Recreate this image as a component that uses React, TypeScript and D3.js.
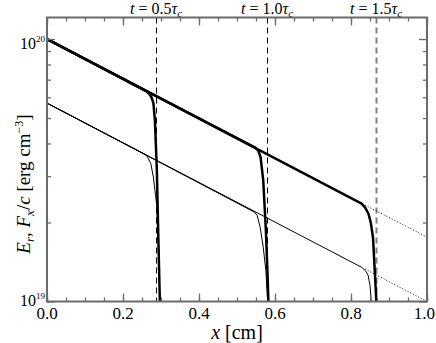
import React, { useEffect, useRef } from 'react';
import * as d3 from 'd3';

// values in units of 1e19 erg cm^-3, x in cm
const erT05: [number, number][] = [[0, 10.0], [0.262, 6.32], [0.268, 6.2], [0.275, 6.0], [0.280, 5.7], [0.284, 4.9], [0.289, 3.2], [0.293, 1.75], [0.297, 1.0], [0.299, 0.8]];
const fxT05: [number, number][] = [[0, 5.70], [0.259, 3.63], [0.264, 3.56], [0.273, 3.36], [0.280, 2.98], [0.284, 2.65], [0.289, 2.32], [0.293, 1.75], [0.297, 1.0], [0.299, 0.8]];
const erT10: [number, number][] = [[0, 10.0], [0.548, 3.86], [0.556, 3.76], [0.562, 3.55], [0.569, 2.9], [0.576, 1.87], [0.581, 1.2], [0.584, 0.85]];
const fxT10: [number, number][] = [[0, 5.70], [0.546, 2.19], [0.553, 2.13], [0.561, 1.92], [0.569, 1.61], [0.576, 1.31], [0.581, 0.98], [0.584, 0.8]];
const erT15: [number, number][] = [[0, 10.0], [0.828, 2.36], [0.838, 2.27], [0.846, 2.16], [0.852, 2.0], [0.858, 1.75], [0.862, 1.35], [0.866, 1.05], [0.869, 0.8]];
const fxT15: [number, number][] = [[0, 5.70], [0.828, 1.35], [0.838, 1.31], [0.845, 1.26], [0.850, 1.15], [0.853, 1.02], [0.856, 0.8]];
// analytic continuation (dotted)
const erDotted: [number, number][] = [[0.837, 2.33], [1.0, 1.76]];
const fxDotted: [number, number][] = [[0.837, 1.33], [1.0, 1.0]];

const frontX = [0.287, 0.579, 0.866];
const frontLabels = ['0.5', '1.0', '1.5'];
const xMajor = [0, 0.2, 0.4, 0.6, 0.8, 1.0];
const xMinor = d3.range(0, 1.0001, 0.05);
const yMajor = [1, 10];
const yMinor = [2, 3, 4, 5, 6, 7, 8, 9];
const yMajorLabels = ['19', '20'];

const W = 436, H = 343;
const M = { left: 47, right: 9, top: 17.5, bottom: 41.5 };
const FONT = 'Liberation Serif';

export default function App() {
    const ref = useRef<SVGSVGElement>(null);

    useEffect(() => {
        const svg = d3.select(ref.current);
        svg.selectAll('*').remove();
        const iw = W - M.left - M.right;
        const ih = H - M.top - M.bottom;

        const x = d3.scaleLinear().domain([0, 1]).range([0, iw]);
        const y = d3.scaleLog().domain([1, 12.08]).range([ih, 0]);

        const g = svg.append('g').attr('transform', `translate(${M.left},${M.top})`);

        g.append('defs').append('clipPath').attr('id', 'clip')
            .append('rect').attr('width', iw).attr('height', ih);

        const plot = g.append('g').attr('clip-path', 'url(#clip)');

        // dashed front markers
        plot.selectAll('.front').data(frontX).enter().append('line')
            .attr('x1', d => Math.round(x(d)) + 0.5).attr('x2', d => Math.round(x(d)) + 0.5)
            .attr('y1', 0).attr('y2', ih)
            .attr('stroke', (d, i) => i === 2 ? '#808080' : '#000')
            .attr('stroke-width', (d, i) => i === 2 ? 2 : 1)
            .attr('stroke-dasharray', '6,4');

        const line = d3.line<[number, number]>()
            .x(d => x(d[0])).y(d => y(d[1]));

        [fxT05, fxT10, fxT15].forEach(s => {
            plot.append('path').attr('d', line(s)).attr('fill', 'none')
                .attr('stroke', '#000').attr('stroke-width', 1)
                .attr('stroke-linejoin', 'round');
        });
        [erT05, erT10, erT15].forEach(s => {
            plot.append('path').attr('d', line(s)).attr('fill', 'none')
                .attr('stroke', '#000').attr('stroke-width', 2.5)
                .attr('stroke-linejoin', 'round');
        });
        [erDotted, fxDotted].forEach(s => {
            plot.append('path').attr('d', line(s)).attr('fill', 'none')
                .attr('stroke', '#000').attr('stroke-width', 1)
                .attr('stroke-dasharray', '1,2');
        });

        // axes (ticks inside, no labels)
        const axisColor = '#6a6a6a';
        const addAxis = (axis: any, tx: number, ty: number) => {
            const a = g.append('g').attr('transform', `translate(${tx},${ty})`).call(axis);
            a.select('.domain').remove();
            a.selectAll('text').remove();
            a.selectAll('line').attr('stroke', axisColor).attr('stroke-width', 1.3);
        };
        addAxis(d3.axisBottom(x).tickValues(xMinor).tickSize(-4), 0, ih);
        addAxis(d3.axisBottom(x).tickValues(xMajor).tickSize(-8), 0, ih);
        addAxis(d3.axisTop(x).tickValues(xMinor).tickSize(-4), 0, 0);
        addAxis(d3.axisTop(x).tickValues(xMajor).tickSize(-8), 0, 0);
        addAxis(d3.axisLeft(y).tickValues(yMinor).tickSize(-4), 0, 0);
        addAxis(d3.axisLeft(y).tickValues(yMajor).tickSize(-8), 0, 0);
        addAxis(d3.axisRight(y).tickValues(yMinor).tickSize(-4), iw, 0);
        addAxis(d3.axisRight(y).tickValues(yMajor).tickSize(-8), iw, 0);

        g.append('rect').attr('width', iw).attr('height', ih)
            .attr('fill', 'none').attr('stroke', axisColor).attr('stroke-width', 2);

        // x tick labels
        g.selectAll('.xl').data(xMajor).enter().append('text')
            .attr('x', d => d === 1 ? W - M.left - 1 : x(d)).attr('y', ih + 17)
            .attr('text-anchor', d => d === 1 ? 'end' : 'middle')
            .attr('font-family', FONT).attr('font-size', 17)
            .text(d => d.toFixed(1));

        // y tick labels
        yMajor.forEach((v, i) => {
            const t = g.append('text')
                .attr('x', -2).attr('y', y(v) + (i === 0 ? 4 : 10))
                .attr('text-anchor', 'end')
                .attr('font-family', FONT).attr('font-size', 16);
            t.append('tspan').text('10');
            t.append('tspan').attr('font-size', 9).attr('dy', -7).text(yMajorLabels[i]);
        });

        // x label
        const xl = g.append('text').attr('x', iw / 2).attr('y', ih + 37)
            .attr('text-anchor', 'middle').attr('font-family', FONT).attr('font-size', 20);
        xl.append('tspan').attr('font-style', 'italic').text('x');
        xl.append('tspan').text(' [cm]');

        // y label
        const yl = svg.append('text')
            .attr('transform', 'translate(30,184) rotate(-90)')
            .attr('text-anchor', 'middle').attr('font-family', FONT).attr('font-size', 19);
        yl.append('tspan').attr('font-style', 'italic').text('E');
        yl.append('tspan').attr('font-style', 'italic').attr('font-size', 13).attr('dy', 4).text('r');
        yl.append('tspan').attr('dy', -4).text(', ');
        yl.append('tspan').attr('font-style', 'italic').text('F');
        yl.append('tspan').attr('font-style', 'italic').attr('font-size', 13).attr('dy', 4).text('x');
        yl.append('tspan').attr('dy', -4).text('/');
        yl.append('tspan').attr('font-style', 'italic').text('c');
        yl.append('tspan').text(' [erg cm');
        yl.append('tspan').attr('font-size', 12).attr('dy', -7).text('\u22123');
        yl.append('tspan').attr('dy', 7).text(']');

        // front labels
        frontX.forEach((fx, i) => {
            const t = g.append('text').attr('x', x(fx)).attr('y', -4)
                .attr('text-anchor', 'middle').attr('font-family', FONT).attr('font-size', 16);
            t.append('tspan').attr('font-style', 'italic').text('t');
            t.append('tspan').text(' = ' + frontLabels[i]);
            t.append('tspan').attr('font-style', 'italic').text('\u03c4');
            t.append('tspan').attr('font-style', 'italic').attr('font-size', 11).attr('dy', 3).text('c');
        });
    }, []);

    return (
        <svg ref={ref} width={W} height={H}
             style={{ position: 'absolute', left: 0, top: 0, background: '#fff' }} />
    );
}
